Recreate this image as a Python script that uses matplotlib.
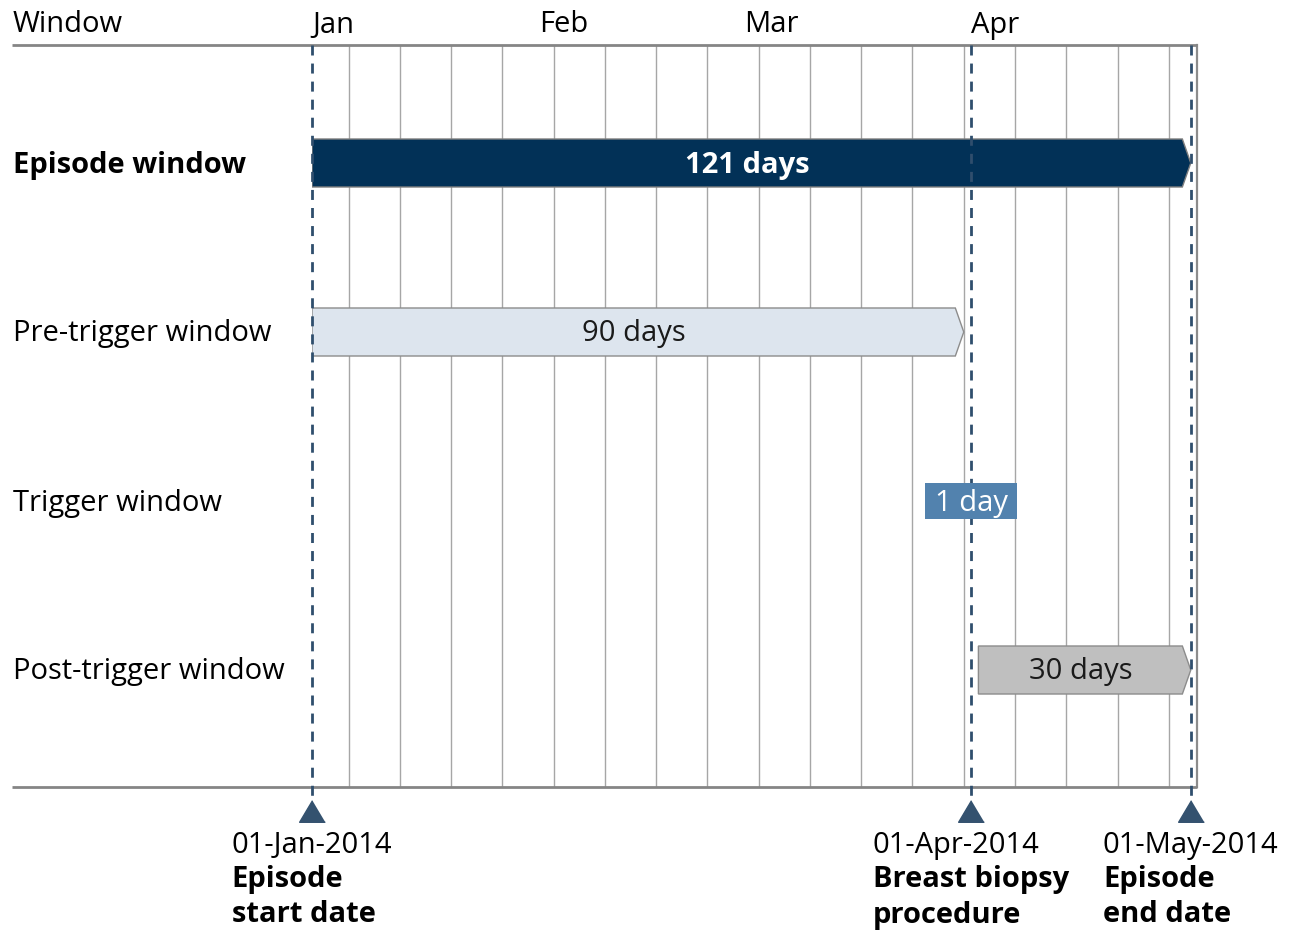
import matplotlib
matplotlib.use("Agg")
import matplotlib.pyplot as plt
import matplotlib.transforms as mtransforms
from matplotlib.patches import Polygon, Rectangle

plt.rcParams['font.family'] = ['Open Sans', 'DejaVu Sans']

# ---------------- data ----------------
months = ["Jan", "Feb", "Mar", "Apr"]
month_start_days = [0, 31, 59, 90]          # day offsets from 01-Jan-2014
week_line_days = [5, 12, 19, 26, 33, 40, 47, 54, 61, 68, 75, 82, 89, 96, 103, 110, 117]
total_days = 120.85

windows = ["Episode window", "Pre-trigger window", "Trigger window", "Post-trigger window"]
win_start = [0, 0, 90, 91]
win_end = [120, 89, 90, 120]
win_labels = ["121 days", "90 days", "1 day", "30 days"]

event_days = [0, 90, 120]
event_dates = ["01-Jan-2014", "01-Apr-2014", "01-May-2014"]
event_names = [["Episode", "start date"], ["Breast biopsy", "procedure"], ["Episode", "end date"]]

# ---------------- styling ----------------
W, H = 1294, 931
FS = 21
fig = plt.figure(figsize=(W / 100, H / 100), dpi=100)
ax_l, ax_r, ax_t, ax_b = 312, 1197, 45, 787
ax = fig.add_axes([ax_l / W, 1 - ax_b / H, (ax_r - ax_l) / W, (ax_b - ax_t) / H])
ax.set_xlim(0, total_days)
row_px = 169
ax.set_ylim(3 + (ax_b - 670) / row_px, -(163 - ax_t) / row_px)
ax.axis('off')
px_per_day = (ax_r - ax_l) / total_days

def ax_x(px):
    return (px - ax_l) / (ax_r - ax_l)

def ax_y(py):
    return (ax_b - py) / (ax_b - ax_t)

trans_xa = mtransforms.blended_transform_factory(ax.transData, ax.transAxes)
trans_ay = mtransforms.blended_transform_factory(ax.transAxes, ax.transData)

grid_col = "#a6a6a6"
for d in week_line_days:
    ax.plot([d, d], [0, 1], transform=trans_xa, color=grid_col, lw=1.0, zorder=1)
ax.plot([total_days, total_days], [0, 1], transform=trans_xa, color="#8c8c8c", lw=1.6, zorder=1, clip_on=False)
for yy in (0, 1):
    ax.plot([ax_x(12), 1], [yy, yy], transform=ax.transAxes, color="#858585", lw=2.0,
            zorder=2, clip_on=False, solid_capstyle='butt')

TY = 2  # small downward nudge (px) to match baseline positions
ax.text(ax_x(13), ax_y(23 + TY), "Window", transform=ax.transAxes, fontsize=FS, ha='left', va='center')
for m, d in zip(months, month_start_days):
    ax.text(d, ax_y(23 + TY), m, transform=trans_xa, fontsize=FS, ha='left', va='center')

row_off = mtransforms.ScaledTranslation(0, -TY / 100, fig.dpi_scale_trans)
for i, w in enumerate(windows):
    ax.text(ax_x(13), i, w, transform=trans_ay + row_off, fontsize=FS, ha='left', va='center',
            fontweight='bold' if i == 0 else 'normal')

bar_h = 48 / row_px
tip = 1.15
styles = [
    dict(fc="#023157", ec="#7f7f7f", tc="white", fw='bold'),
    dict(fc="#dde5ee", ec="#8c8c8c", tc="#1a1a1a", fw='normal'),
    None,
    dict(fc="#bfbfbf", ec="#8c8c8c", tc="#1a1a1a", fw='normal'),
]
box_w = 92 / px_per_day
box_h = 36 / row_px
for i in range(len(windows)):
    s, e, lab = win_start[i], win_end[i], win_labels[i]
    st = styles[i]
    if st is None:
        c = (s + e) / 2
        ax.add_patch(Rectangle((c - box_w / 2, i - box_h / 2), box_w, box_h, fc="#5282ae", ec="none", zorder=6))
        ax.text(c, i, lab, fontsize=FS, color="white", ha='center', va='center', zorder=7,
                transform=ax.transData + row_off)
        continue
    verts = [(s, i - bar_h / 2), (e - tip, i - bar_h / 2), (e, i), (e - tip, i + bar_h / 2), (s, i + bar_h / 2)]
    ax.add_patch(Polygon(verts, closed=True, fc=st['fc'], ec=st['ec'], lw=1.0, zorder=4))
    ax.text((s + e - tip) / 2, i, lab, fontsize=FS, color=st['tc'], fontweight=st['fw'],
            ha='center', va='center', zorder=6, transform=ax.transData + row_off)

ev_col = "#2f4e6d"
for d in event_days:
    ax.plot([d, d], [1, ax_y(805)], transform=trans_xa, color=ev_col, lw=2.0,
            linestyle=(0, (3.6, 2.9)), zorder=5, clip_on=False)
tri = [(0, 0.84), (-1, -0.84), (1, -0.84)]
ax.plot(event_days, [ax_y(811)] * len(event_days), transform=trans_xa, linestyle='none',
        marker=tri, markersize=18.5, color="#34526f", zorder=6, clip_on=False)

fig.canvas.draw()
renderer = fig.canvas.get_renderer()
line_py = [843 + TY, 878 + TY, 913 + TY]
for d, date, names in zip(event_days, event_dates, event_names):
    texts = [ax.text(d, ax_y(line_py[0]), date, transform=trans_xa, fontsize=FS, ha='left', va='center')]
    for k, nm in enumerate(names):
        texts.append(ax.text(d, ax_y(line_py[k + 1]), nm, transform=trans_xa, fontsize=FS,
                             fontweight='bold', ha='left', va='center'))
    widths = [tt.get_window_extent(renderer).width for tt in texts]
    shift = -max(widths) / 2 / fig.dpi
    off = mtransforms.ScaledTranslation(shift, 0, fig.dpi_scale_trans)
    for tt in texts:
        tt.set_transform(trans_xa + off)

fig.savefig("out.png", dpi=100)
